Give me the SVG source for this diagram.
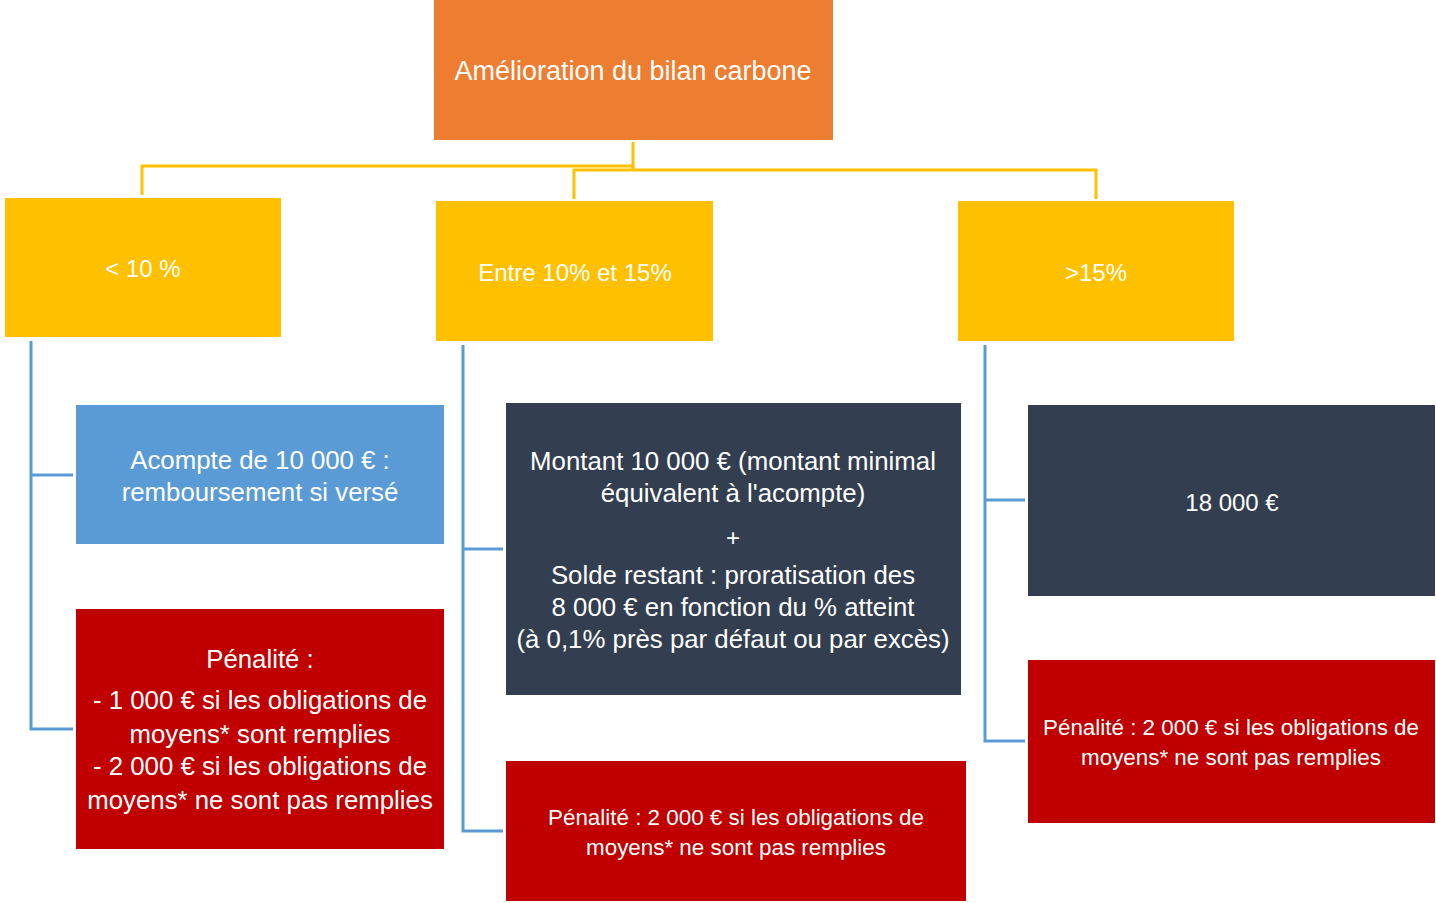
<svg xmlns="http://www.w3.org/2000/svg" width="1436" height="903" viewBox="0 0 1436 903">
<style>
text{font-family:"Liberation Sans",Arial,sans-serif;fill:#fff;text-anchor:middle;dominant-baseline:central}
.t24{font-size:24px}
.t26{font-size:25.8px}
.t27{font-size:27px}
.t22{font-size:22.4px}
.y{fill:none;stroke:#FFC000;stroke-width:3}
.b{fill:none;stroke:#5B9BD5;stroke-width:3}
</style>
<rect width="1436" height="903" fill="#fff"/>
<g id="connectors">
<path class="y" d="M633,142 V166 H142 V195"/>
<path class="y" d="M633,166 V170 M574,199 V170 H1096 V199"/>
<path class="b" d="M31,341 V729 H73 M31,475 H73"/>
<path class="b" d="M463,345 V831 H503 M463,549 H503"/>
<path class="b" d="M985,345 V741 H1025 M985,500 H1025"/>
</g>
<g id="root">
<rect x="434" y="0" width="399" height="140" fill="#ED7D31"/>
<text class="t27" x="633" y="71">Amélioration du bilan carbone</text>
</g>
<g id="lt10">
<rect x="5" y="198" width="276" height="139" fill="#FFC000"/>
<text class="t24" x="143" y="268">&lt; 10 %</text>
</g>
<g id="mid">
<rect x="436" y="201" width="277" height="140" fill="#FFC000"/>
<text class="t24" x="575" y="272">Entre 10% et 15%</text>
</g>
<g id="gt15">
<rect x="958" y="201" width="276" height="140" fill="#FFC000"/>
<text class="t24" x="1096" y="272">&gt;15%</text>
</g>
<g id="acompte">
<rect x="76" y="405" width="368" height="139" fill="#5B9BD5"/>
<text class="t26" x="260" y="460">Acompte de 10 000 €  :</text>
<text class="t26" x="260" y="492">remboursement si versé</text>
</g>
<g id="penalite1">
<rect x="76" y="609" width="368" height="240" fill="#C00000"/>
<text class="t26" x="260" y="659">Pénalité :</text>
<text class="t26" x="260" y="700">- 1 000 € si les obligations de</text>
<text class="t26" x="260" y="734">moyens* sont remplies</text>
<text class="t26" x="260" y="766">- 2 000 € si les obligations de</text>
<text class="t26" x="260" y="800">moyens* ne sont pas remplies</text>
</g>
<g id="montant">
<rect x="506" y="403" width="455" height="292" fill="#333F50"/>
<text class="t26" x="733" y="461">Montant 10 000 € (montant minimal</text>
<text class="t26" x="733" y="493">équivalent à l'acompte)</text>
<text class="t24" x="733" y="537">+</text>
<text class="t26" x="733" y="575">Solde restant : proratisation des</text>
<text class="t26" x="733" y="607">8 000 € en fonction du % atteint</text>
<text class="t26" x="733" y="639">(à 0,1% près par défaut ou par excès)</text>
</g>
<g id="penalite2">
<rect x="506" y="761" width="460" height="140" fill="#C00000"/>
<text class="t22" x="736" y="817">Pénalité : 2 000 € si les obligations de</text>
<text class="t22" x="736" y="847">moyens* ne sont pas remplies</text>
</g>
<g id="montant18">
<rect x="1028" y="405" width="407" height="191" fill="#333F50"/>
<text class="t24" x="1232" y="502">18 000 €</text>
</g>
<g id="penalite3">
<rect x="1028" y="660" width="407" height="163" fill="#C00000"/>
<text class="t22" x="1231" y="727">Pénalité : 2 000 € si les obligations de</text>
<text class="t22" x="1231" y="757">moyens* ne sont pas remplies</text>
</g>
</svg>
